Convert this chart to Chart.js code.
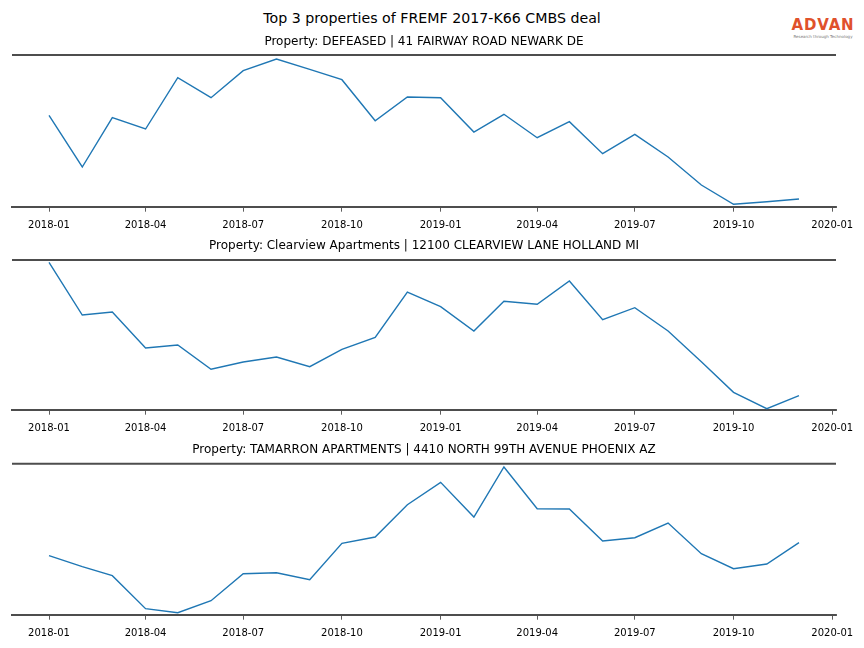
<!DOCTYPE html>
<html>
<head>
<meta charset="utf-8">
<script src="https://cdn.jsdelivr.net/npm/chart.js@4/dist/chart.umd.min.js"></script>
<style>
  body { margin: 0; background: #fff; }
  #wrap { position: relative; width: 864px; height: 648px; font-family: "DejaVu Sans", sans-serif; }
  #suptitle { position: absolute; left: 0; width: 864px; top: 10px; text-align: center; font-size: 14.2px; color: #000; }
  #logo { position: absolute; left: 789px; top: 17px; width: 68px; text-align: center; }
  #logo .name { font-family: "DejaVu Sans", sans-serif; font-size: 15px; font-weight: bold; color: #e0512b; letter-spacing: 0.8px; line-height: 17px; }
  #logo .tag { font-size: 4px; color: #777; line-height: 5px; white-space: nowrap; }
  canvas { position: absolute; left: 0; }
</style>
</head>
<body>
<div id="wrap">
  <div id="suptitle">Top 3 properties of FREMF 2017-K66 CMBS deal</div>
  <div id="logo"><div class="name">ADVAN</div><div class="tag">Research through Technology</div></div>
  <canvas id="c1" width="864" height="207" style="top:28px"></canvas>
  <canvas id="c2" width="864" height="205" style="top:235px"></canvas>
  <canvas id="c3" width="864" height="208" style="top:440px"></canvas>
</div>
<script>
// monthly observations
const months = ['2018-01','2018-02','2018-03','2018-04','2018-05','2018-06','2018-07','2018-08','2018-09','2018-10','2018-11','2018-12',
                '2019-01','2019-02','2019-03','2019-04','2019-05','2019-06','2019-07','2019-08','2019-09','2019-10','2019-11','2019-12'];
const tickLabels = ['2018-01','2018-04','2018-07','2018-10','2019-01','2019-04','2019-07','2019-10','2020-01'];

const titles = [
  'Property: DEFEASED | 41 FAIRWAY ROAD NEWARK DE',
  'Property: Clearview Apartments | 12100 CLEARVIEW LANE HOLLAND MI',
  'Property: TAMARRON APARTMENTS | 4410 NORTH 99TH AVENUE PHOENIX AZ'
];

// values (relative units, no y axis shown)
const fairway = [91.4, 39.7, 89, 77.7, 129, 109, 136, 147.7, 137.4, 127, 86, 109.7,
                 109, 74.7, 92.4, 69, 85, 53, 72.4, 49.7, 21.7, 2.4, 5, 7.7];
const clearview = [147.4, 94.7, 97.7, 61.7, 64.7, 40.4, 47.7, 52.7, 43, 60.4, 72.4, 117.7,
                   103, 78.7, 108.4, 105.4, 128.7, 90, 102, 78.7, 48, 17.4, 1, 14];
const tamarron = [59, 48, 39, 6, 2, 14, 41, 42, 35, 71.4, 77.7, 110,
                  132.4, 97.7, 147.7, 106, 105.7, 73.7, 77, 91.7, 61, 46, 50.7, 72];
const yTops = [151.7, 149.7, 151];

const dayOf = (s) => (Date.UTC(+s.slice(0, 4), +s.slice(5, 7) - 1, 1) - Date.UTC(2018, 0, 1)) / 86400000;
const xMin = -34.5, xMax = 733.5;

const panels = [
  { id: 'c1', values: fairway, padTop: 27, titleY: 14 },
  { id: 'c2', values: clearview, padTop: 25, titleY: 11 },
  { id: 'c3', values: tamarron, padTop: 23.7, titleY: 10 }
];

const spines = {
  id: 'spines',
  afterDraw(chart, args, opts) {
    const { ctx, chartArea } = chart;
    ctx.save();
    ctx.strokeStyle = '#4d4d4d';
    ctx.lineWidth = 2;
    ctx.beginPath();
    ctx.moveTo(chartArea.left, chartArea.top);
    ctx.lineTo(chartArea.right, chartArea.top);
    ctx.stroke();
    ctx.fillStyle = '#000';
    ctx.font = '12px "DejaVu Sans"';
    ctx.textAlign = 'center';
    ctx.textBaseline = 'middle';
    ctx.fillText(opts.text, (chartArea.left + chartArea.right) / 2, opts.y);
    ctx.restore();
  }
};

panels.forEach((p, i) => {
  const canvas = document.getElementById(p.id);
  const plotH = yTops[i];
  const axisH = canvas.height - p.padTop - plotH;
  new Chart(canvas, {
    type: 'line',
    data: {
      datasets: [{
        data: months.map((m, k) => ({ x: dayOf(m), y: p.values[k] })),
        borderColor: '#1f77b4',
        borderWidth: 1.4,
        pointRadius: 0,
        tension: 0,
        clip: false
      }]
    },
    options: {
      responsive: false,
      animation: false,
      events: [],
      layout: { padding: { left: 12, right: 28, top: p.padTop, bottom: 0 } },
      plugins: {
        legend: { display: false },
        tooltip: { enabled: false },
        spines: { text: titles[i], y: p.titleY }
      },
      scales: {
        x: {
          type: 'linear',
          min: xMin,
          max: xMax,
          afterBuildTicks: (axis) => { axis.ticks = tickLabels.map(t => ({ value: dayOf(t) })); },
          afterFit: (axis) => { axis.height = axisH; },
          ticks: {
            autoSkip: false,
            maxRotation: 0,
            padding: 8,
            color: '#000',
            font: { family: 'DejaVu Sans', size: 10 },
            callback: (v, k) => tickLabels[k]
          },
          grid: { drawOnChartArea: false, drawTicks: true, tickLength: 5, color: '#333', lineWidth: 0.8 },
          border: { display: true, color: '#4d4d4d', width: 2 }
        },
        y: { display: false, min: 0, max: yTops[i] }
      }
    },
    plugins: [spines]
  });
});
</script>
</body>
</html>
